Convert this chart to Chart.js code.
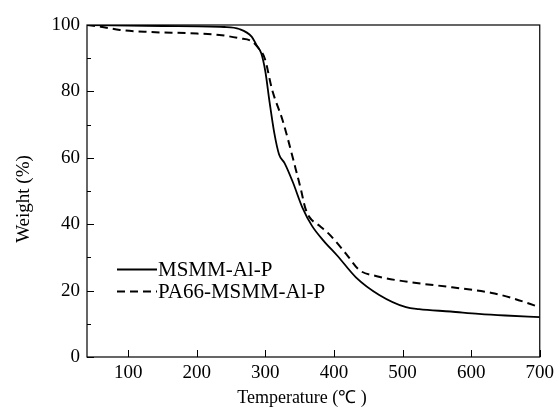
<!DOCTYPE html>
<html>
<head>
<meta charset="utf-8">
<script src="https://cdn.jsdelivr.net/npm/chart.js@4/dist/chart.umd.min.js"></script>
<style>
html,body{margin:0;padding:0;background:#fff;}
#wrap{width:559px;height:407px;position:relative;}
</style>
</head>
<body>
<div id="wrap"><canvas id="c" width="559" height="407"></canvas></div>
<script>
const msmmT = [40, 150, 240, 262, 280, 287, 294, 300, 306, 313, 320, 328, 340, 354, 368, 385, 405, 432, 466, 505, 524, 570, 611, 650, 700];
const msmmW = [100, 99.7, 99.4, 98.8, 96.5, 94, 91.5, 86, 77, 67.5, 61, 58.4, 52.7, 45, 39.5, 35, 30.5, 24, 18.7, 15, 14.4, 13.7, 13, 12.5, 12];
const paT = [40, 60, 88, 131, 190, 233, 262, 281, 290, 299, 310, 325, 332, 342, 352, 358, 364, 379, 393, 418, 437, 461, 509, 572, 630, 659, 700];
const paW = [100, 99.5, 98.5, 97.9, 97.5, 97, 96, 95, 93, 90, 80.4, 71.4, 66.3, 58.4, 50.3, 45, 42.2, 39.5, 37, 31, 26.2, 24.4, 22.6, 21, 19.3, 17.8, 15];
const seriesNames = ["MSMM-Al-P", "PA66-MSMM-Al-P"];
const xTicks = [100, 200, 300, 400, 500, 600, 700];
const yTicks = [0, 20, 40, 60, 80, 100];
const yMinorTicks = [10, 30, 50, 70, 90];
const xTitle = "Temperature (℃ )";
const yTitle = "Weight (%)";

const FONT = "'Liberation Serif','Times New Roman',serif";

function pts(xs, ys){ return xs.map((x,i)=>({x:x, y:ys[i]})); }

const framePlugin = {
  id: 'frame',
  afterDraw(chart){
    const ctx = chart.ctx, a = chart.chartArea;
    const xs = chart.scales.x, ys = chart.scales.y;
    ctx.save();
    ctx.strokeStyle = '#000';
    ctx.lineWidth = 1.2;
    ctx.strokeRect(a.left, a.top, a.right - a.left, a.bottom - a.top);
    ctx.lineWidth = 1;
    ctx.beginPath();
    xTicks.forEach(v=>{
      const px = Math.round(xs.getPixelForValue(v)) + 0.5;
      ctx.moveTo(px, a.bottom); ctx.lineTo(px, a.bottom - 7);
    });
    yTicks.forEach(v=>{
      const py = Math.round(ys.getPixelForValue(v)) + 0.5;
      ctx.moveTo(a.left, py); ctx.lineTo(a.left + 7, py);
    });
    yMinorTicks.forEach(v=>{
      const py = Math.round(ys.getPixelForValue(v)) + 0.5;
      ctx.moveTo(a.left, py); ctx.lineTo(a.left + 4, py);
    });
    ctx.stroke();
    // axis titles
    ctx.fillStyle = '#000';
    ctx.font = "18px " + FONT;
    ctx.textAlign = 'center';
    ctx.textBaseline = 'alphabetic';
    ctx.fillText(xTitle, 302, 403);
    ctx.save();
    ctx.translate(29, 199);
    ctx.rotate(-Math.PI/2);
    ctx.font = "19px " + FONT;
    ctx.fillText(yTitle, 0, 0);
    ctx.restore();
    // legend
    const lx0 = 117, lx1 = 157, tx = 158;
    const rows = [{y:269.5, dash:[]}, {y:291.5, dash:[8,5]}];
    ctx.font = "21px " + FONT;
    ctx.textAlign = 'left';
    ctx.textBaseline = 'middle';
    rows.forEach((r,i)=>{
      ctx.beginPath();
      ctx.setLineDash(r.dash);
      ctx.lineWidth = i === 0 ? 1.8 : 2;
      ctx.moveTo(lx0, r.y); ctx.lineTo(lx1, r.y);
      ctx.stroke();
      ctx.setLineDash([]);
      ctx.fillText(seriesNames[i], tx, r.y + 1);
    });
    ctx.restore();
  }
};

new Chart(document.getElementById('c'), {
  type: 'line',
  data: {
    datasets: [
      { label: seriesNames[0], data: pts(msmmT, msmmW), borderColor: '#000', borderWidth: 1.8, pointRadius: 0, cubicInterpolationMode: 'monotone', fill: false },
      { label: seriesNames[1], data: pts(paT, paW), borderColor: '#000', borderWidth: 2, borderDash: [8,5], pointRadius: 0, cubicInterpolationMode: 'monotone', fill: false }
    ]
  },
  options: {
    responsive: false,
    animation: false,
    devicePixelRatio: 1,
    layout: { padding: { left: 0, top: 25, right: 18, bottom: 0 } },
    plugins: { legend: { display: false }, tooltip: { enabled: false } },
    scales: {
      x: {
        type: 'linear', min: 40, max: 700,
        afterBuildTicks(s){ s.ticks = xTicks.map(v=>({value:v})); },
        afterFit(s){ s.height = 50; },
        grid: { display: false, drawTicks: false },
        border: { display: false },
        ticks: { color: '#000', font: { family: FONT, size: 19 }, padding: 5, maxRotation: 0 },
        title: { display: false }
      },
      y: {
        type: 'linear', min: 0, max: 100,
        afterBuildTicks(s){ s.ticks = yTicks.map(v=>({value:v})); },
        afterFit(s){ s.width = 87; },
        grid: { display: false, drawTicks: false },
        border: { display: false },
        ticks: { color: '#000', font: { family: FONT, size: 19 }, padding: 7 },
        title: { display: false }
      }
    }
  },
  plugins: [framePlugin]
});
</script>
</body>
</html>
